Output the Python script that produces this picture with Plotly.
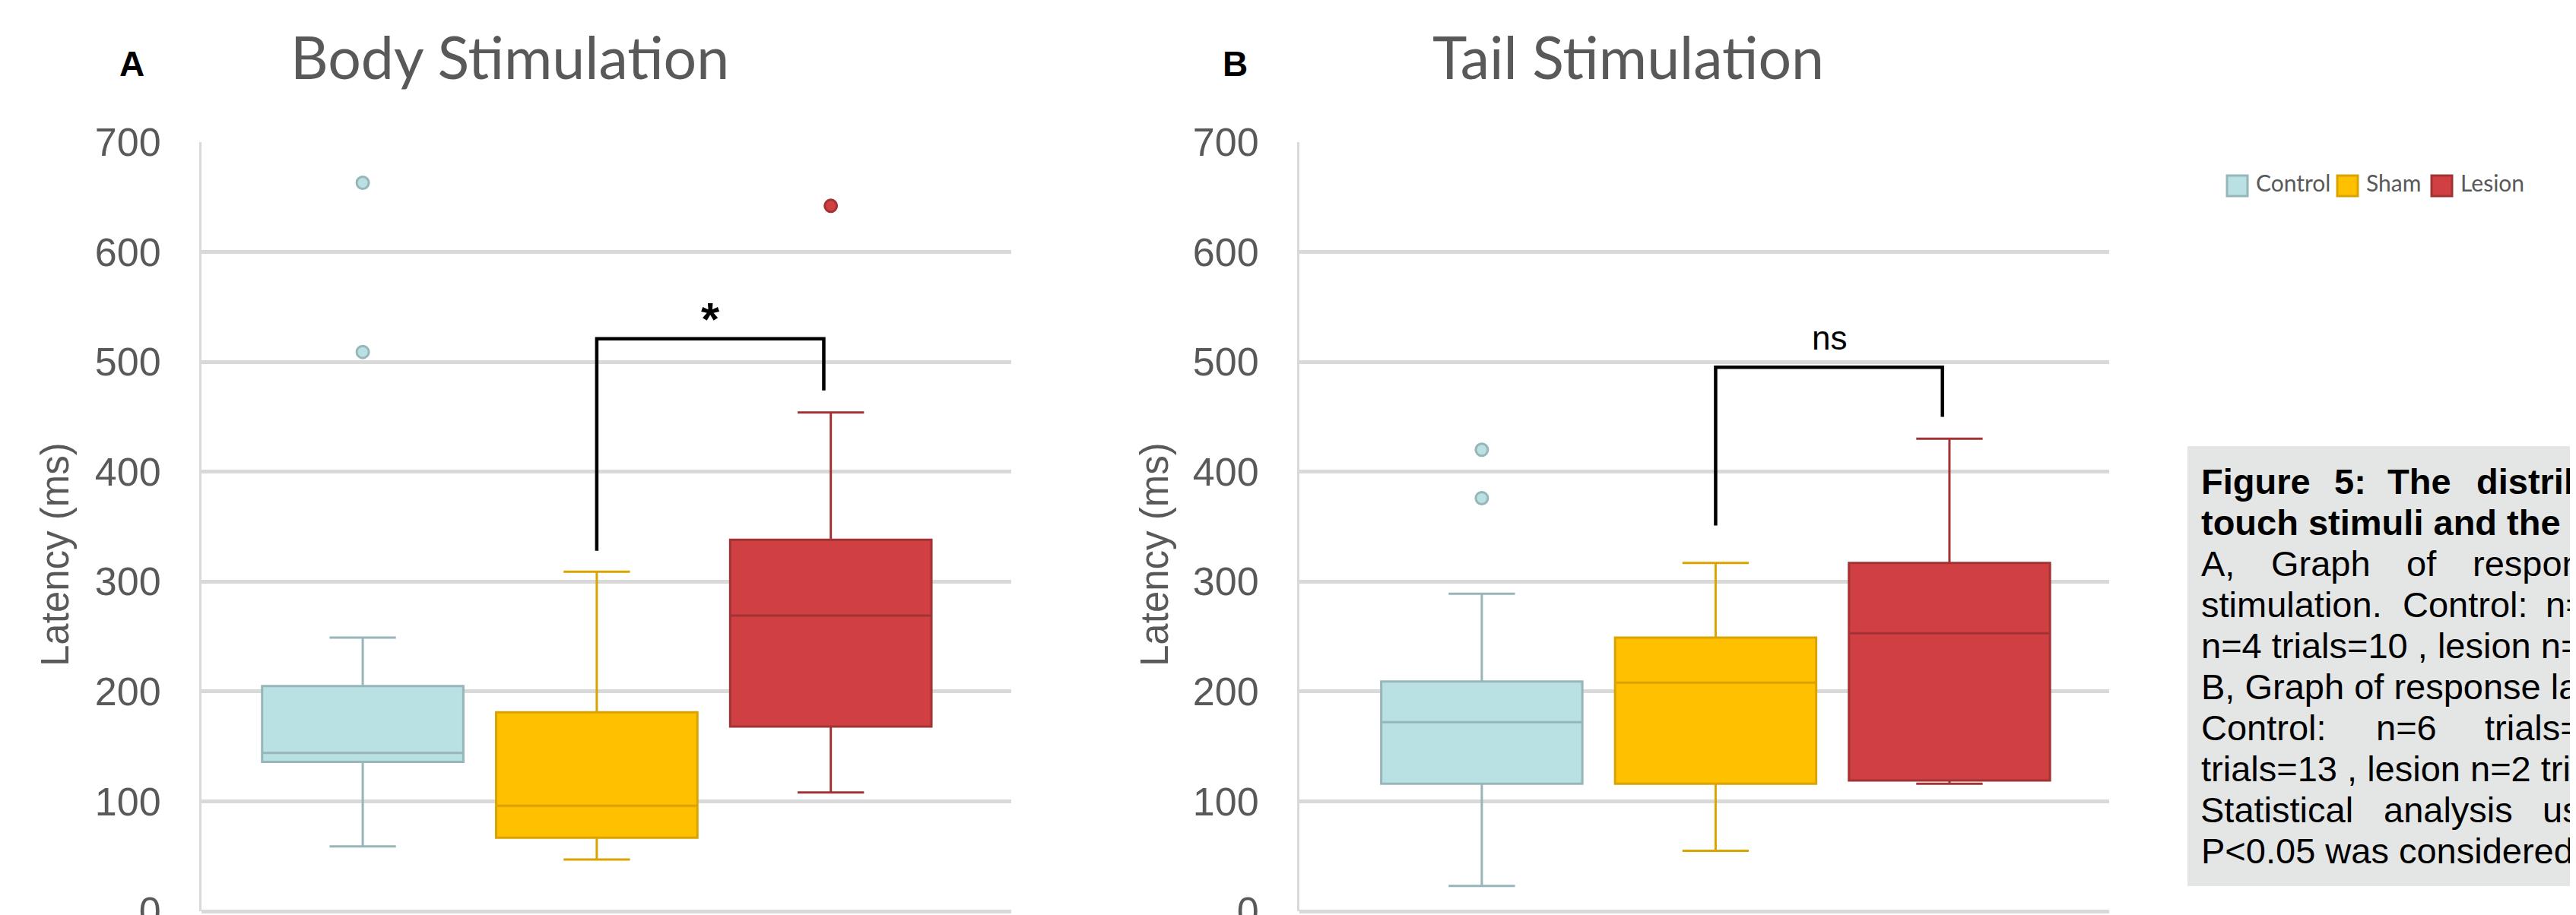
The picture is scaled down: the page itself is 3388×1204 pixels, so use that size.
import plotly.graph_objects as go

# ---------------- data ----------------
groups = ["Control", "Sham", "Lesion"]

# Body stimulation (panel A)
body_lower = [59, 47, 108]
body_q1 = [136, 67, 168]
body_median = [144, 96, 269]
body_q3 = [205, 181, 338]
body_upper = [249, 309, 454]
body_outliers = [[509, 663], [], [642]]
body_bracket = [328, 521, 474]   # sham leg, top, lesion leg
body_sig = "*"

# Tail stimulation (panel B)
tail_lower = [23, 55, 116]
tail_q1 = [116, 116, 119]
tail_median = [172, 208, 253]
tail_q3 = [209, 249, 317]
tail_upper = [289, 317, 430]
tail_outliers = [[376, 420], [], []]
tail_bracket = [351, 495, 450]
tail_sig = "ns"

y_ticks = [0, 100, 200, 300, 400, 500, 600, 700]

caption_lines = [
    "Figure 5: The distrib",
    "touch stimuli and the c",
    "A, Graph of respons",
    "stimulation. Control: n=",
    "n=4 trials=10 , lesion n=",
    "B, Graph of response la",
    "Control: n=6 trials=",
    "trials=13 , lesion n=2 tria",
    "Statistical analysis usi",
    "P<0.05 was considered",
]

# ---------------- style ----------------
W, H = 3388, 1204
fills = ["#B9E0E3", "#FFC000", "#D04042"]
edges = ["#97B6B9", "#D9A300", "#A33234"]
grey_text = "#595959"
grid_col = "#D9D9D9"
tick_family = "Liberation Sans Narrow, Arial Narrow, Liberation Sans, sans-serif"


def px(x):
    return x / W


def py(y):
    return 1 - y / H


fig = go.Figure()

panels = [
    dict(x="x", y="y", lower=body_lower, q1=body_q1, med=body_median, q3=body_q3,
         upper=body_upper, out=body_outliers, br=body_bracket, sig=body_sig),
    dict(x="x2", y="y2", lower=tail_lower, q1=tail_q1, med=tail_median, q3=tail_q3,
         upper=tail_upper, out=tail_outliers, br=tail_bracket, sig=tail_sig),
]

for p in panels:
    for i, g in enumerate(groups):
        fig.add_trace(go.Box(
            x=[i], q1=[p["q1"][i]], median=[p["med"][i]], q3=[p["q3"][i]],
            lowerfence=[p["lower"][i]], upperfence=[p["upper"][i]],
            name=g, width=0.86, whiskerwidth=0.33,
            fillcolor=fills[i], line=dict(color=edges[i], width=3),
            boxpoints=False, showlegend=False,
            xaxis=p["x"], yaxis=p["y"],
        ))
        if p["out"][i]:
            fig.add_trace(go.Scatter(
                x=[i] * len(p["out"][i]), y=p["out"][i], mode="markers",
                marker=dict(size=16, color=fills[i], line=dict(color=edges[i], width=3)),
                showlegend=False, xaxis=p["x"], yaxis=p["y"],
            ))
    # significance bracket between Sham and Lesion
    xs = groups.index("Sham")
    xl = groups.index("Lesion") - 0.03
    fig.add_trace(go.Scatter(
        x=[xs, xs, xl, xl], y=[p["br"][0], p["br"][1], p["br"][1], p["br"][2]],
        mode="lines", line=dict(color="black", width=4.5),
        showlegend=False, xaxis=p["x"], yaxis=p["y"],
    ))
    if p["sig"] == "*":
        fig.add_annotation(
            x=(xs + xl) / 2, y=p["br"][1], xref=p["x"], yref=p["y"],
            text="<b>*</b>", showarrow=False, yanchor="bottom", yshift=-10,
            font=dict(family="Liberation Sans", size=62, color="black"),
        )
    else:
        fig.add_annotation(
            x=(xs + xl) / 2, y=p["br"][1], xref=p["x"], yref=p["y"],
            text=p["sig"], showarrow=False, yanchor="bottom", yshift=12,
            font=dict(family="Liberation Sans", size=44, color="black"),
        )

yaxis_style = dict(
    range=[0, 700], tickvals=y_ticks, showgrid=True, gridcolor=grid_col, gridwidth=5,
    zeroline=True, zerolinecolor=grid_col, zerolinewidth=5,
    showline=True, linecolor=grid_col, linewidth=3, ticks="",
    tickfont=dict(family=tick_family, size=52, color=grey_text),
    ticklabelstandoff=40, ticklabeloverflow="allow", automargin=False, fixedrange=True,
    domain=[py(1191), py(179)],
)
xaxis_style = dict(showgrid=False, zeroline=False, showline=False, showticklabels=False,
                   ticks="", automargin=False, fixedrange=True)

fig.update_layout(
    width=W, height=H,
    margin=dict(l=0, r=0, t=0, b=0),
    paper_bgcolor="white", plot_bgcolor="white",
    showlegend=False,
    xaxis=dict(domain=[px(257), px(1322)], range=[-0.689, 2.771], **xaxis_style),
    xaxis2=dict(domain=[px(1701), px(2766)], range=[-0.78, 2.683], anchor="y2", **xaxis_style),
    yaxis=dict(anchor="x", **yaxis_style),
    yaxis2=dict(anchor="x2", **yaxis_style),
)

# panel letters, titles, y-axis titles
for letter, lx, title, tx, ytx in [("A", 165, "Body Stimulation", 662, 64),
                                    ("B", 1616, "Tail Stimulation", 2133, 1510)]:
    fig.add_annotation(x=px(lx), y=py(76), xref="paper", yref="paper", text=f"<b>{letter}</b>",
                       showarrow=False, xanchor="center", yanchor="middle",
                       font=dict(family="Liberation Sans", size=46, color="black"))
    fig.add_annotation(x=px(tx), y=py(66), xref="paper", yref="paper", text=title,
                       showarrow=False, xanchor="center", yanchor="middle",
                       font=dict(family="Lato", size=77, color=grey_text))
    fig.add_annotation(x=px(ytx), y=py(722), xref="paper", yref="paper", text="Latency (ms)",
                       showarrow=False, textangle=-90, xanchor="center", yanchor="middle",
                       font=dict(family="Liberation Sans", size=51, color=grey_text))

# legend (drawn manually to match square swatches)
legend_items = [(2921, 2957), (3066, 3102), (3190, 3226)]
for i, (sx, tx) in enumerate(legend_items):
    fig.add_shape(type="rect", xref="paper", yref="paper",
                  x0=px(sx), x1=px(sx + 27), y0=py(250), y1=py(223),
                  fillcolor=fills[i], line=dict(color=edges[i], width=3))
    fig.add_annotation(x=px(tx), y=py(232), xref="paper", yref="paper", text=groups[i],
                       showarrow=False, xanchor="left", yanchor="middle",
                       font=dict(family="Lato", size=30, color=grey_text))

# caption box
fig.add_shape(type="rect", xref="paper", yref="paper", x0=px(2869), x1=1.0,
              y0=py(1158), y1=py(579), fillcolor="#E4E6E5", line=dict(width=0), layer="below")

word_x = {
    0: [2885, 3060, 3130, 3247],
    2: [2885, 2977, 3155, 3242],
    3: [2885, 3150, 3338],
    6: [2885, 3115, 3258],
    8: [2884, 3125, 3334],
}
bold_lines = {0, 1}
for k, line in enumerate(caption_lines):
    anchor_y = 625 + 54 * k
    fnt = dict(family="Liberation Sans", size=47, color="black")
    if k in word_x:
        pieces = list(zip(line.split(" "), word_x[k]))
    else:
        pieces = [(line, 2885)]
    for word, wx in pieces:
        txt = f"<b>{word}</b>" if k in bold_lines else word
        fig.add_annotation(x=px(wx), y=py(anchor_y), xref="paper", yref="paper", text=txt,
                           showarrow=False, xanchor="left", yanchor="middle", font=fnt)

fig.write_html("out.html")
